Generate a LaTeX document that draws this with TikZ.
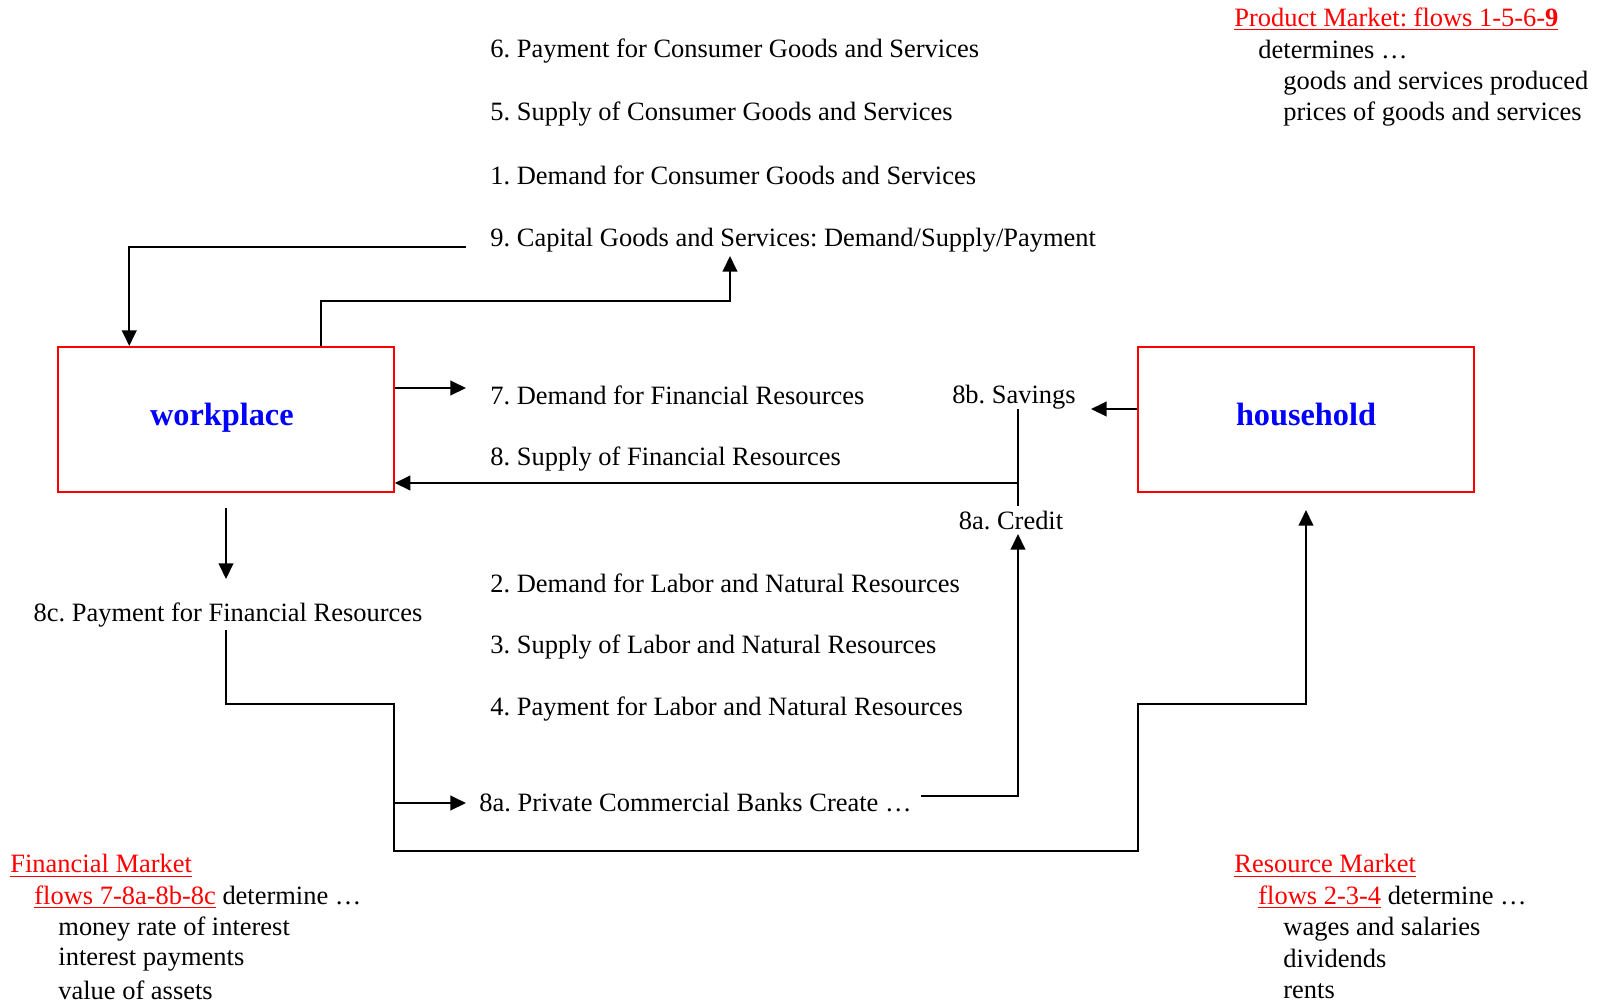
\documentclass[tikz,border=0pt]{standalone}
\usepackage{fontspec}
\setmainfont{Liberation Serif}
\usetikzlibrary{arrows.meta, positioning, calc}
\frenchspacing

\begin{document}
\begin{tikzpicture}[x=0.48pt, y=-0.48pt, font=\fontsize{12.7}{15}\selectfont]
  \useasboundingbox (0,0) rectangle (1599,1004);

  \tikzset{
    lbl/.style={anchor=west, inner sep=0pt},
    mid/.style={inner sep=0pt},
    mkt/.style={anchor=west, inner sep=0pt, text=red},
    sector/.style={draw=red, line width=1pt, minimum width=161pt,
      minimum height=69.6pt, text=blue, text height=0.8em, text depth=0.22em,
      font=\fontsize{15.5}{18}\selectfont\bfseries},
    flow/.style={line width=1pt, -{Triangle[length=7.5pt, width=7pt]}},
    link/.style={line width=1pt}
  }

  %% Sectors
  \node[sector] (work)  at (226,419.5)  {\hspace*{-4pt}workplace};
  \node[sector] (house) at (1306,419.5) {household};

  %% Flow labels
  \node[lbl] (f6) at (490,51)  {6. Payment for Consumer Goods and Services};
  \node[lbl] (f5) at (490,114) {5. Supply of Consumer Goods and Services};
  \node[lbl] (f1) at (490,175) {1. Demand for Consumer Goods and Services};
  \node[lbl] (f9) at (490,240) {9. Capital Goods and Services: Demand/Supply/Payment};
  \node[lbl] (f7) at (490,395) {7. Demand for Financial Resources};
  \node[lbl] (f8) at (490,459) {8. Supply of Financial Resources};
  \node[mid] (f8b) at (1014,397) {8b. Savings};
  \node[mid] (f8a) at (1011,520) {8a. Credit};
  \node[lbl] (f2) at (490,583) {2. Demand for Labor and Natural Resources};
  \node[lbl] (f3) at (490,647) {3. Supply of Labor and Natural Resources};
  \node[lbl] (f4) at (490,709) {4. Payment for Labor and Natural Resources};
  \node[mid] (f8c) at (228,615) {8c. Payment for Financial Resources};
  \node[lbl] (bank) at (479,802) {8a. Private Commercial Banks Create …};

  %% Market notes
  \node[mkt] (pm)  at (1234,19) {\underline{Product Market: flows 1-5-6-\textbf{9}}};
  \node[lbl] (pm1) at (1258,49) {determines …};
  \node[lbl] (pm2) at (1283,83) {goods and services produced};
  \node[lbl] (pm3) at (1283,114) {prices of goods and services};

  \node[mkt] (fm)  at (10,866) {\underline{Financial Market}};
  \node[lbl] (fm1) at (34,897) {\textcolor{red}{\underline{flows 7-8a-8b-8c}} determine …};
  \node[lbl] (fm2) at (58,929) {money rate of interest};
  \node[lbl] (fm3) at (58,960) {interest payments};
  \node[lbl] (fm4) at (58,990) {value of assets};

  \node[mkt] (rm)  at (1234,866) {\underline{Resource Market}};
  \node[lbl] (rm1) at (1258,897) {\textcolor{red}{\underline{flows 2-3-4}} determine …};
  \node[lbl] (rm2) at (1283,929) {wages and salaries};
  \node[lbl] (rm3) at (1283,958) {dividends};
  \node[lbl] (rm4) at (1283,991) {rents};

  %% Connector end points
  \coordinate (c9out) at (466,247);
  \coordinate (c9in)  at (730,256);
  \coordinate (c7)    at (466,388);
  \coordinate (j8)    at (1018,483);
  \coordinate (s8top) at (1018,409);
  \coordinate (s8bot) at (1018,506);
  \coordinate (c8b)   at (1091,409);
  \coordinate (cbank) at (921,796);
  \coordinate (ccred) at (1018,534);
  \coordinate (wdown) at (226,579);
  \coordinate (c8c)   at (226,630);
  \coordinate (k1)    at (394,851);
  \coordinate (k2)    at (1138,704);
  \coordinate (hin)   at (1306,510);
  \coordinate (kb)    at (394,803);
  \coordinate (cb)    at (466,803);

  %% Flows
  \draw[flow] (c9out) -| ($(work.north west)+(72,0)$);
  \draw[flow] ($(work.north west)+(264,0)$) -- ++(0,-45) -| (c9in);
  \draw[flow] (work.east |- c7) -- (c7);
  \draw[flow] (j8) -- (work.east |- j8);
  \draw[link] (s8top) -- (s8bot);
  \draw[flow] (house.west |- c8b) -- (c8b);
  \draw[flow] (cbank) -| (ccred);
  \draw[flow] ($(work.south)+(0,15)$) -- (wdown);
  \draw[flow] (c8c) -- ++(0,74) -| (k1) -| (k2) -| (hin);
  \draw[flow] (kb) -- (cb);

\end{tikzpicture}
\end{document}
